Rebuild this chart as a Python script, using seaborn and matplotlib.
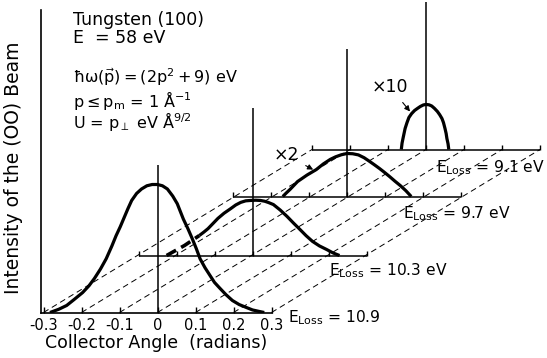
import numpy as np
import pandas as pd
import matplotlib
matplotlib.use("Agg")
import matplotlib.pyplot as plt
import seaborn as sns

# ---------------- data ----------------
energy_loss_labels = ["10.9", "10.3 eV", "9.7 eV", "9.1 eV"]
tick_angles = [-0.3, -0.2, -0.1, 0.0, 0.1, 0.2, 0.3]
tick_labels = ["-0.3", "-0.2", "-0.1", "0", "0.1", "0.2", "0.3"]

# E_loss = 10.9 eV
angle_109 = [-0.283, -0.26, -0.239, -0.22, -0.197, -0.18, -0.166, -0.15, -0.135, -0.12,
             -0.109, -0.098, -0.088, -0.078, -0.068, -0.055, -0.042, -0.028, -0.014, 0.0,
             0.013, 0.026, 0.04, 0.052, 0.068, 0.08, 0.091, 0.102, 0.112, 0.125,
             0.138, 0.15, 0.164, 0.18, 0.197, 0.215, 0.234, 0.25, 0.268, 0.281]
int_109 = [0.0, 0.025, 0.055, 0.10, 0.156, 0.21, 0.266, 0.34, 0.42, 0.52,
           0.60, 0.67, 0.74, 0.81, 0.875, 0.93, 0.965, 0.99, 1.0, 1.0,
           0.99, 0.965, 0.91, 0.85, 0.73, 0.655, 0.58, 0.50, 0.42, 0.35,
           0.29, 0.235, 0.19, 0.14, 0.094, 0.062, 0.039, 0.02, 0.008, 0.0]

# E_loss = 10.3 eV (solid part + dashed extrapolation)
angle_103 = [-0.14, -0.128, -0.117, -0.104, -0.091, -0.075, -0.057, -0.044, -0.031, -0.018,
             -0.005, 0.008, 0.021, 0.032, 0.042, 0.055, 0.073, 0.091, 0.108, 0.125,
             0.141, 0.158, 0.176, 0.195, 0.212, 0.229]
int_103 = [0.156, 0.183, 0.21, 0.25, 0.29, 0.33, 0.367, 0.395, 0.415, 0.427,
           0.43, 0.432, 0.43, 0.424, 0.414, 0.398, 0.355, 0.305, 0.253, 0.203,
           0.155, 0.11, 0.075, 0.047, 0.02, 0.0]
angle_103_dash = [-0.226, -0.179, -0.14]
int_103_dash = [0.0, 0.078, 0.156]

# E_loss = 9.7 eV (x2)
angle_97 = [-0.169, -0.16, -0.15, -0.14, -0.13, -0.105, -0.081, -0.062, -0.044, -0.03,
            -0.015, 0.0, 0.015, 0.03, 0.045, 0.06, 0.072, 0.085, 0.098, 0.112,
            0.126, 0.14, 0.155, 0.169]
int_97 = [0.0, 0.027, 0.055, 0.086, 0.117, 0.168, 0.21, 0.255, 0.29, 0.31,
          0.326, 0.336, 0.334, 0.325, 0.303, 0.273, 0.248, 0.22, 0.19, 0.156,
          0.12, 0.086, 0.045, 0.0]

# E_loss = 9.1 eV (x10)
angle_91 = [-0.065, -0.063, -0.06, -0.055, -0.05, -0.045, -0.038, -0.03, -0.022, -0.015,
            -0.007, 0.0, 0.008, 0.015, 0.022, 0.03, 0.036, 0.042, 0.046, 0.05,
            0.053, 0.055, 0.058, 0.06]
int_91 = [0.0, 0.05, 0.094, 0.164, 0.21, 0.25, 0.28, 0.305, 0.322, 0.336,
          0.348, 0.352, 0.349, 0.34, 0.322, 0.297, 0.272, 0.242, 0.21, 0.164,
          0.125, 0.086, 0.045, 0.0]

# ---------------- layout ----------------
W, H = 547, 358
PX_RAD = 380.0      # pixels per radian
PX_INT = 128.0      # pixels per intensity unit
X0_PX, BASE_PX = 157.5, 312.5
AX_LEFT_PX = 41
shift_px = [(0, 0), (95, 57), (189.5, 116), (268.5, 163)]
shifts = [(dx / PX_RAD, dy / PX_INT) for dx, dy in shift_px]
VLINE_H = 1.15
TICK_H = 0.032

sns.set_theme(style="white")
plt.rcParams["font.family"] = ["DejaVu Sans"]
plt.rcParams["mathtext.fontset"] = "dejavusans"
plt.rcParams["mathtext.default"] = "regular"
plt.rcParams["lines.solid_joinstyle"] = "round"
plt.rcParams["lines.solid_capstyle"] = "butt"

fig = plt.figure(figsize=(W / 100, H / 100), dpi=100)
ax = fig.add_axes([AX_LEFT_PX / W, (H - BASE_PX) / H, (W - AX_LEFT_PX) / W, BASE_PX / H])
ax.set_facecolor("white")
xl = (AX_LEFT_PX - X0_PX) / PX_RAD
xr = (W - X0_PX) / PX_RAD
ax.set_xlim(xl, xr)
ax.set_ylim(0, BASE_PX / PX_INT)

K = "black"
# diagonal dashed guide lines
sx4, sy4 = shifts[3]
for a in tick_angles:
    ax.plot([a, a + sx4], [0, sy4], color=K, lw=0.7, ls=(0, (6, 4)))

# back panels: baselines, ticks, vertical zero lines
for i, (sx, sy) in enumerate(shifts):
    if i > 0:
        ax.plot([-0.3 + sx, 0.3 + sx], [sy, sy], color=K, lw=1.1)
        for a in tick_angles:
            ax.plot([a + sx, a + sx], [sy, sy + TICK_H], color=K, lw=1.0)
    ax.plot([sx, sx], [sy, sy + VLINE_H], color=K, lw=1.1)

curves = [(angle_109, int_109), (angle_103, int_103), (angle_97, int_97), (angle_91, int_91)]
for (ang, val), (sx, sy) in zip(curves, shifts):
    df = pd.DataFrame({"x": np.array(ang) + sx, "y": np.array(val) + sy})
    sns.lineplot(data=df, x="x", y="y", ax=ax, color=K, lw=2.3, sort=False, estimator=None)

sx2, sy2 = shifts[1]
dfd = pd.DataFrame({"x": np.array(angle_103_dash) + sx2, "y": np.array(int_103_dash) + sy2})
sns.lineplot(data=dfd, x="x", y="y", ax=ax, color=K, lw=2.6, sort=False, estimator=None,
             linestyle=(0, (3, 1.6)))

# axes styling
for s in ["top", "right"]:
    ax.spines[s].set_visible(False)
for s in ["left", "bottom"]:
    ax.spines[s].set_color(K)
    ax.spines[s].set_linewidth(1.2)
ax.spines["bottom"].set_bounds(xl, 0.3)
ax.spines["left"].set_bounds(0, (BASE_PX - 10) / PX_INT)
ax.set_xticks(tick_angles, tick_labels)
ax.set_yticks([])
ax.tick_params(axis="x", direction="in", length=4, width=1.0, color=K, pad=4, labelsize=10.5,
               labelcolor=K, bottom=True)
ax.set_xlabel("Collector Angle  (radians)", fontsize=12.5, color=K)
ax.xaxis.set_label_coords((156 - AX_LEFT_PX) / (W - AX_LEFT_PX), (BASE_PX - 343) / BASE_PX)
ax.xaxis.label.set_verticalalignment("center")
ax.set_ylabel("Intensity of the (OO) Beam", fontsize=13.5, color=K)
ax.yaxis.set_label_coords((14 - AX_LEFT_PX) / (W - AX_LEFT_PX), (BASE_PX - 168) / BASE_PX)
ax.yaxis.label.set_verticalalignment("center")


def ftext(xp, yp, s, **kw):
    fig.text(xp / W, 1 - yp / H, s, color=K, **kw)


ftext(73, 25, "Tungsten (100)", fontsize=12.5, va="baseline")
ftext(73, 43, "E  = 58 eV", fontsize=12.5, va="baseline")
ftext(73, 83, r"$\hbar\omega(\vec{p}) = (2p^2 + 9)$ eV", fontsize=11.5, va="baseline")
ftext(73, 107, r"$p \leq p_m$ = 1 Å$^{-1}$", fontsize=11.5, va="baseline")
ftext(73, 128, r"U = $p_\perp$ eV Å$^{9/2}$", fontsize=11.5, va="baseline")

label_pos = [(288, 322), (329, 275), (403, 218), (436, 172)]
for (xp, yp), lab in zip(label_pos, energy_loss_labels):
    ftext(xp, yp, r"E$_{Loss}$ = " + lab, fontsize=11.2, va="baseline")

# scale-factor annotations
sx3, sy3 = shifts[2]
ax.annotate("×2", xy=(-0.089 + sx3, 0.21 + sy3), xytext=(286, H - 155), textcoords="figure pixels",
            ha="center", va="center", fontsize=12.5, color=K,
            arrowprops=dict(arrowstyle="-|>", color=K, lw=0.8, mutation_scale=8, shrinkA=3, shrinkB=0))
ax.annotate("×10", xy=(-0.042 + sx4, 0.297 + sy4), xytext=(390, H - 87), textcoords="figure pixels",
            ha="center", va="center", fontsize=12.5, color=K,
            arrowprops=dict(arrowstyle="-|>", color=K, lw=0.8, mutation_scale=8, shrinkA=3, shrinkB=0))

fig.savefig("out.png", dpi=100, facecolor="white")
